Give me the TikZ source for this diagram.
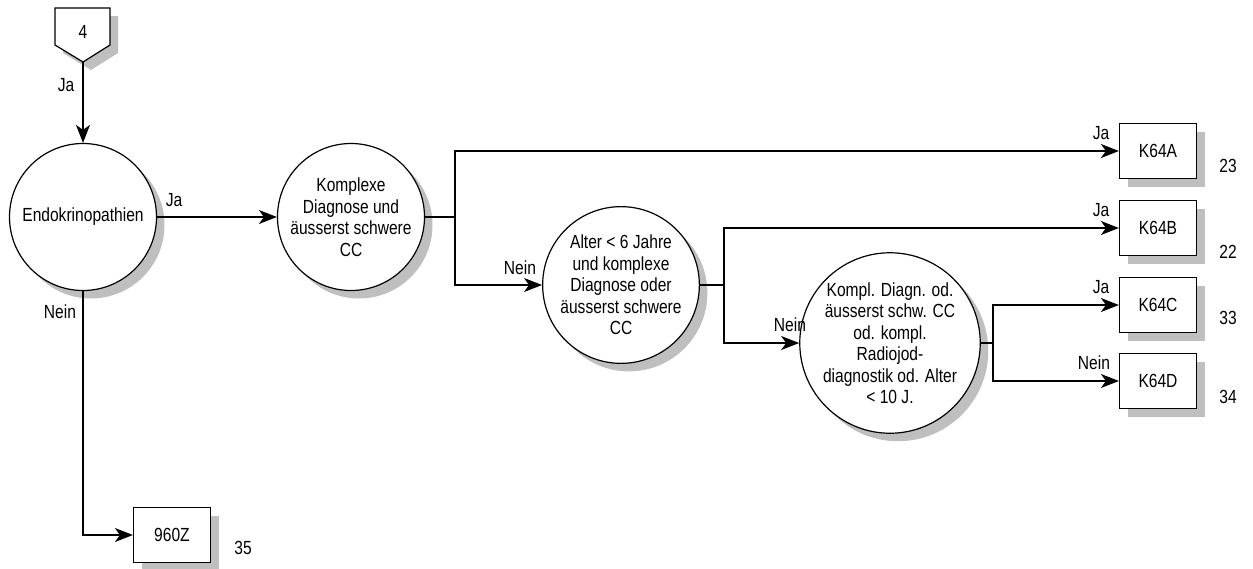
\documentclass[tikz,border=0pt]{standalone}
\usepackage{fontspec}
\setmainfont{Liberation Sans}[FakeStretch=0.82]
\usetikzlibrary{arrows.meta, shadows}

\begin{document}
\begin{tikzpicture}[x=1pt, y=-1pt, line width=1.2pt,
    font=\fontsize{19}{21.5}\selectfont,
    shade grey/.style={drop shadow={shadow xshift=8pt, shadow yshift=-8pt, fill=black!25, opacity=1}},
    decision/.style={circle, draw, fill=white, minimum size=147pt, inner sep=0pt, align=center, shade grey},
    drgbox/.style={rectangle, draw, fill=white, minimum width=77pt, minimum height=55pt, inner sep=0pt, shade grey},
    arr/.style={-{Stealth[length=18pt, width=14pt, inset=5pt]}}]

    \useasboundingbox (0,0) rectangle (1253,568);

    % Connector 4
    \coordinate (tip) at (83,62);
    \fill [black!25] (63,16) -- (118,16) -- (118,53) -- (91,70) -- (63,53) -- cycle;
    \draw [fill=white] (55,8) -- (110,8) -- (110,45) -- (tip) -- (55,45) -- cycle;
    \node (conn4) at (83,32) {4};

    % Decisions
    \node [decision] (endo) at (83,217) {Endokrinopathien};
    \node [decision] (komp) at (351,217) {Komplexe\\Diagnose und\\äusserst schwere\\CC};
    \node [decision] (alter) at (621,285) {Alter < 6 Jahre\\und komplexe\\Diagnose oder\\äusserst schwere\\CC};
    \node [decision] (kompl) at (890,343) {Kompl. Diagn. od.\\äusserst schw. CC\\od. kompl.\\Radiojod-\\diagnostik od. Alter\\< 10 J.};

    % DRGs
    \node [drgbox] (k64a) at (1158,151) {K64A};
    \node [drgbox] (k64b) at (1158,228) {K64B};
    \node [drgbox] (k64c) at (1158,305) {K64C};
    \node [drgbox] (k64d) at (1158,381) {K64D};
    \node [drgbox] (z960) at (172,535) {960Z};

    % Numbers
    \node (n23) at (1228,166) {23};
    \node (n22) at (1228,252) {22};
    \node (n33) at (1228,318) {33};
    \node (n34) at (1228,397) {34};
    \node (n35) at (243,548) {35};

    % Junctions
    \coordinate (j1) at (455,217);
    \coordinate (j2) at (724,285);
    \coordinate (j3) at (993,343);

    % Connectors
    \draw [arr] (tip) -- (endo.north);
    \draw [arr] (endo.east) -- (komp.west);
    \draw [arr] (endo.south) |- (z960.west);
    \draw (komp.east) -- (j1);
    \draw [arr] (j1) |- (k64a.west);
    \draw [arr] (j1) |- (alter.west);
    \draw (alter.east) -- (j2);
    \draw [arr] (j2) |- (k64b.west);
    \draw [arr] (j2) |- (kompl.west);
    \draw (kompl.east) -- (j3);
    \draw [arr] (j3) |- (k64c.west);
    \draw [arr] (j3) |- (k64d.west);

    % Labels
    \node (l1) at (66,85) {Ja};
    \node (l2) at (174,200) {Ja};
    \node (l3) at (60,312) {Nein};
    \node (l4) at (520,268) {Nein};
    \node (l5) at (790,325) {Nein};
    \node (l6) at (1101,133) {Ja};
    \node (l7) at (1101,210) {Ja};
    \node (l8) at (1101,287) {Ja};
    \node (l9) at (1094,363) {Nein};

\end{tikzpicture}
\end{document}
